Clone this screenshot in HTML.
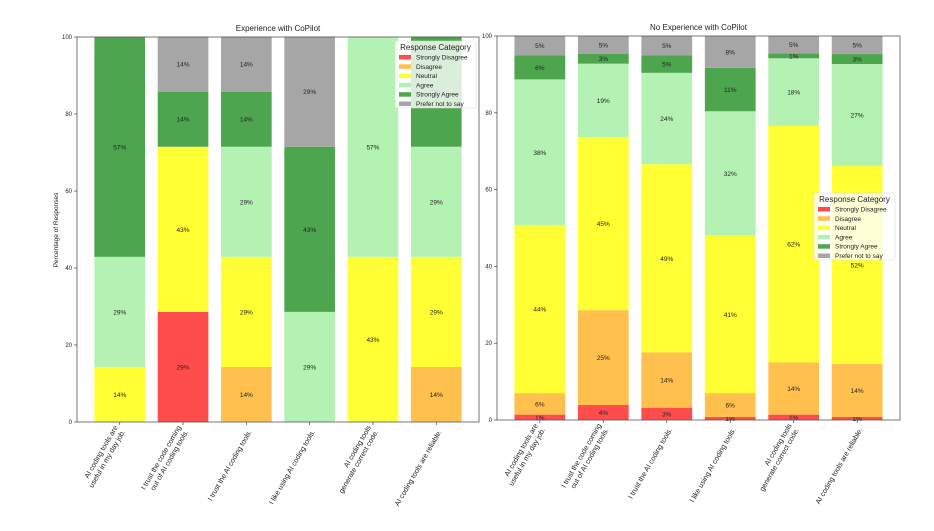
<!DOCTYPE html>
<html><head><meta charset="utf-8"><style>
body{margin:0;background:#fff;}
svg{display:block;font-family:"Liberation Sans","DejaVu Sans",sans-serif;}
</style></head><body>
<svg id="chart" width="934" height="531" viewBox="0 0 934 531"></svg>
<script>
const categories = ["AI coding tools are\nuseful in my day job.","I trust the code coming\nout of AI coding tools.","I trust the AI coding tools.","I like using AI coding tools.","AI coding tools\ngenerate correct code.","AI coding tools are reliable."];
const seriesNames = ["Strongly Disagree","Disagree","Neutral","Agree","Strongly Agree","Prefer not to say"];
const seriesColors = ["#ff4d4d","#ffc04d","#ffff33","#b3f2b3","#4da64d","#a6a6a6"];
// Experience: rows = questions, cols = series
const expValues = [
 [0,0,14.3,28.6,57.1,0],
 [28.6,0,42.9,0,14.3,14.3],
 [0,14.3,28.6,28.6,14.3,14.3],
 [0,0,0,28.6,42.9,28.6],
 [0,0,42.9,57.1,0,0],
 [0,14.3,28.6,28.6,28.6,0]
];
const noExpValues = [
 [1.4,5.6,43.7,38.0,6.3,5.0],
 [3.9,24.7,45.1,19.1,2.6,4.6],
 [3.2,14.4,49.0,23.8,4.6,5.0],
 [0.8,6.2,41.0,32.4,11.3,8.3],
 [1.4,13.6,61.6,17.6,1.3,4.5],
 [0.8,13.8,51.6,26.5,2.6,4.7]
];
const yTicks = [0,20,40,60,80,100];

const NS="http://www.w3.org/2000/svg";
const svg=document.getElementById('chart');
function mk(tag,attrs,parent,text){const e=document.createElementNS(NS,tag);for(const k in attrs)e.setAttribute(k,attrs[k]);if(text!==undefined)e.textContent=text;(parent||svg).appendChild(e);return e;}

function panel(cfg){
  const g=mk('g',{});
  
  
  const y=v=>cfg.y0+(cfg.y1-cfg.y0)*v/100;
  const n=categories.length;
  const pitch=(cfg.x1-cfg.x0)/(n+0.35);
  const xc=i=>cfg.x0+pitch*(i+0.675);
  const bw=pitch*0.8;
  const t=mk('text',{x:(cfg.x0+cfg.x1)/2,y:cfg.y1-6,'text-anchor':'middle','font-size':8,fill:'#222'},g,cfg.title);
  
  
  cfg.values.forEach((row,i)=>{
    let acc=0;
    row.forEach((v,s)=>{
      if(v>0){
        const r=mk('rect',{x:xc(i)-bw/2,y:y(acc+v),width:bw,height:y(acc)-y(acc+v),fill:seriesColors[s]},g);
        
        
        const lb=mk('text',{x:xc(i),y:y(acc+v/2)+2.5,'text-anchor':'middle','font-size':6.5,fill:'#222'},g,Math.round(v)+'%');
        
        
      }
      acc+=v;
    });
    mk('line',{x1:xc(i),x2:xc(i),y1:cfg.y0,y2:cfg.y0+3,stroke:'#444','stroke-width':0.7},g);
    const lg=mk('g',{transform:`translate(${xc(i)+3},${cfg.y0+8}) rotate(-60)`},g);
    const lines=categories[i].split('\n');
    lines.forEach((ln,k)=>{
      const tx=mk('text',{x:0,y:(k-(lines.length-1))*8.5+3,'text-anchor':'end','font-size':7.2,fill:'#222'},lg,ln);
      
      
    });
  });
  mk('rect',{x:cfg.x0,y:cfg.y1,width:cfg.x1-cfg.x0,height:cfg.y0-cfg.y1,fill:'none',stroke:'#555','stroke-width':0.8},g);
  yTicks.forEach(v=>{
    mk('line',{x1:cfg.x0-3,x2:cfg.x0,y1:y(v),y2:y(v),stroke:'#444','stroke-width':0.7},g);
    const tl=mk('text',{x:cfg.x0-5,y:y(v)+2,'text-anchor':'end','font-size':6,fill:'#222'},g,String(v));
    
    
  });
  const L=mk('g',{},g);
  
  
  mk('rect',{x:cfg.lx,y:cfg.ly,width:81,height:67,fill:'#fff','fill-opacity':0.8,stroke:'#ddd','stroke-width':0.6,rx:2},L);
  mk('text',{x:cfg.lx+40.5,y:cfg.ly+9,'text-anchor':'middle','font-size':8,fill:'#222'},L,'Response Category');
  seriesNames.forEach((nm,s)=>{
    const yy=cfg.ly+16+s*9.3;
    const e=mk('g',{},L);
    
    
    mk('rect',{x:cfg.lx+4,y:yy-2,width:12,height:4.5,fill:seriesColors[s]},e);
    mk('text',{x:cfg.lx+21,y:yy+2.5,'font-size':6.5,fill:'#222'},e,nm);
  });
}
panel({name:'experience-panel',title:'Experience with CoPilot',values:expValues,x0:77,x1:479,y0:422,y1:37,lx:395,ly:41});
panel({name:'no-experience-panel',title:'No Experience with CoPilot',values:noExpValues,x0:497,x1:900,y0:420,y1:36,lx:814,ly:193});
const yl=mk('text',{x:0,y:0,transform:'translate(58,230) rotate(-90)','text-anchor':'middle','font-size':6.5,fill:'#222'},svg,'Percentage of Responses');


</script>
</body></html>
